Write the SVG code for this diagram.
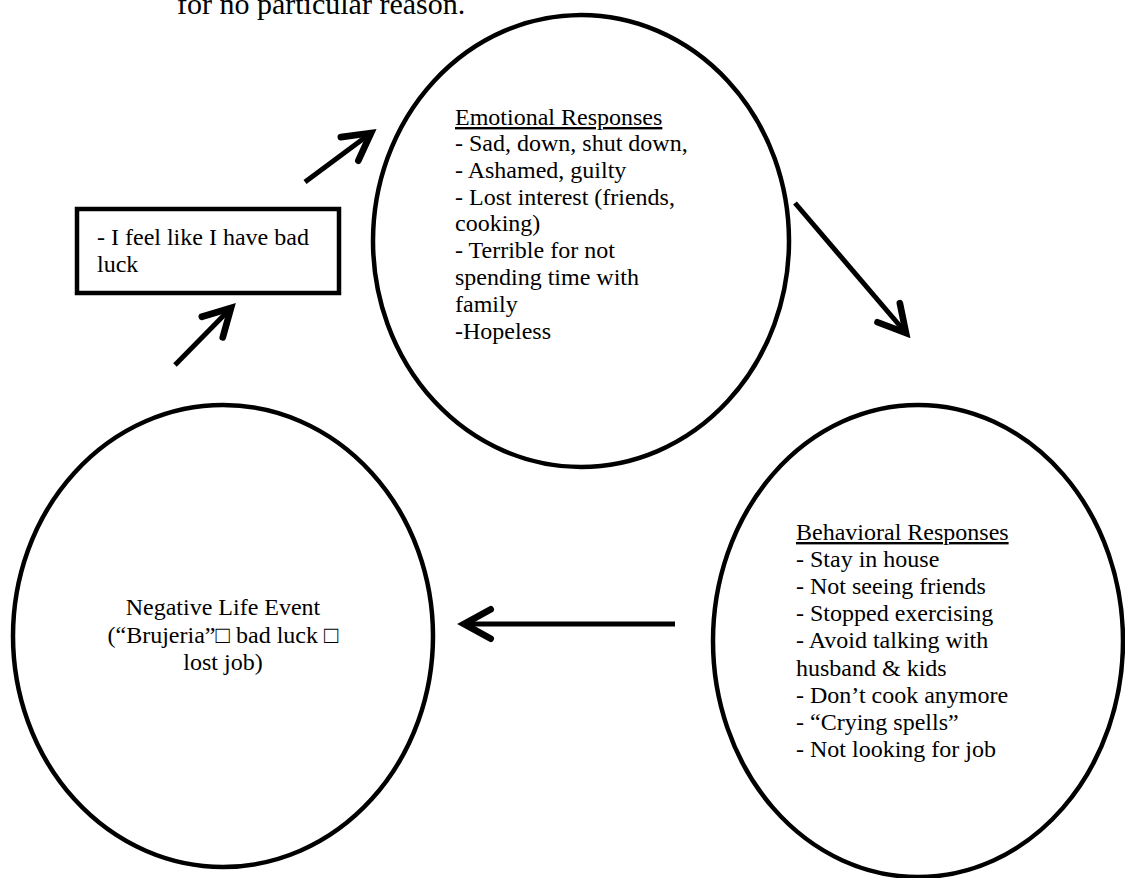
<svg xmlns="http://www.w3.org/2000/svg" width="1125" height="878" viewBox="0 0 1125 878">
  <style>
    .shape { fill: none; stroke: #000; stroke-width: 4.5; }
    .txt { font-family: "Liberation Serif", "Times New Roman", "DejaVu Serif", serif; font-size: 24px; fill: #000; }
    .head { text-decoration: underline; }
    .conn { stroke: #000; stroke-width: 5; fill: none; marker-end: url(#open); }
  </style>
  <defs>
    <marker id="open" markerUnits="userSpaceOnUse" markerWidth="40" markerHeight="40" viewBox="-25 -15 30 30" refX="0" refY="0" orient="auto">
      <path d="M -20 -11 L 0 0 L -20 11" fill="none" stroke="#000" stroke-width="5" stroke-linecap="round" stroke-linejoin="miter"/>
    </marker>
  </defs>
  <rect width="1125" height="878" fill="#fff"/>

  <text class="txt" x="177" y="14" style="font-size:30px">for no particular reason.</text>

  <g id="thought">
    <rect class="shape" x="77" y="209" width="262" height="84"/>
    <text class="txt" x="97" y="245">- I feel like I have bad</text>
    <text class="txt" x="97" y="272">luck</text>
  </g>

  <g id="emotional">
    <ellipse class="shape" cx="581" cy="241" rx="208" ry="226"/>
    <text class="txt" x="455" y="125"><tspan class="head">Emotional Responses</tspan></text>
    <text class="txt" x="455" y="151">- Sad, down, shut down,</text>
    <text class="txt" x="455" y="178">- Ashamed, guilty</text>
    <text class="txt" x="455" y="205">- Lost interest (friends,</text>
    <text class="txt" x="455" y="231">cooking)</text>
    <text class="txt" x="455" y="258">- Terrible for not</text>
    <text class="txt" x="455" y="285">spending time with</text>
    <text class="txt" x="455" y="312">family</text>
    <text class="txt" x="455" y="339">-Hopeless</text>
  </g>

  <g id="behavioral">
    <ellipse class="shape" cx="918" cy="641" rx="205" ry="236"/>
    <text class="txt" x="796" y="540"><tspan class="head">Behavioral Responses</tspan></text>
    <text class="txt" x="796" y="567">- Stay in house</text>
    <text class="txt" x="796" y="594">- Not seeing friends</text>
    <text class="txt" x="796" y="621">- Stopped exercising</text>
    <text class="txt" x="796" y="648">- Avoid talking with</text>
    <text class="txt" x="796" y="676">husband &amp; kids</text>
    <text class="txt" x="796" y="703">- Don’t cook anymore</text>
    <text class="txt" x="796" y="730">- “Crying spells”</text>
    <text class="txt" x="796" y="757">- Not looking for job</text>
  </g>

  <g id="negative">
    <ellipse class="shape" cx="223" cy="636" rx="210" ry="231"/>
    <text class="txt" x="223" y="615" text-anchor="middle">Negative Life Event</text>
    <text class="txt" x="223" y="643" text-anchor="middle">(“Brujeria”□ bad luck □</text>
    <text class="txt" x="223" y="670" text-anchor="middle">lost job)</text>
  </g>

  <g id="connectors">
    <line class="conn" x1="305" y1="182" x2="371" y2="133"/>
    <line class="conn" x1="175" y1="365" x2="231" y2="308"/>
    <line class="conn" x1="795" y1="203" x2="906" y2="333"/>
    <line class="conn" x1="675" y1="624" x2="464" y2="624"/>
  </g>
</svg>
